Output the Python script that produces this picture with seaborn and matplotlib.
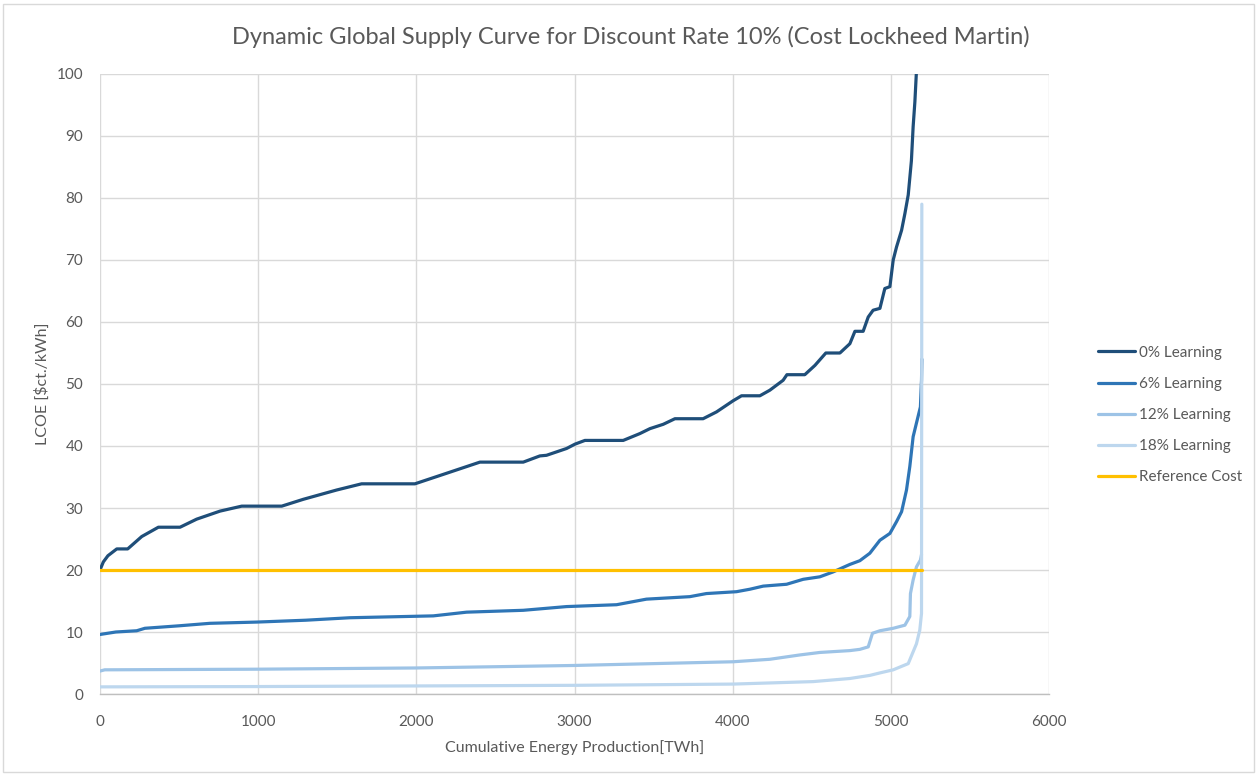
# ============================
# Dynamic Global Supply Curve (Discount Rate 10%)
# ============================

import pandas as pd
import matplotlib.pyplot as plt
import seaborn as sns
from matplotlib.lines import Line2D
from matplotlib.patches import Rectangle

sns.set_theme(style="whitegrid")
plt.rcParams['font.family'] = ['Lato', 'DejaVu Sans']

# ----------------------------
# Data
# ----------------------------
x_0 = [0, 21, 50, 106, 175, 264, 369, 506, 611, 759, 896, 1149, 1285, 1496, 1654,
       1991, 2191, 2402, 2676, 2781, 2823, 2950, 3003, 3066, 3308, 3413, 3477, 3561,
       3635, 3813, 3898, 4003, 4056, 4172, 4235, 4319, 4343, 4456, 4520, 4589, 4678,
       4741, 4773, 4825, 4857, 4888, 4931, 4962, 4994, 5015, 5036, 5068, 5089, 5110,
       5130, 5141, 5152, 5162]
lcoe_0 = [20.0, 21.3, 22.3, 23.4, 23.4, 25.4, 26.9, 26.9, 28.2, 29.5, 30.3, 30.3, 31.4,
          32.9, 33.9, 33.9, 35.6, 37.4, 37.4, 38.4, 38.5, 39.6, 40.3, 40.9, 40.9, 42.0,
          42.8, 43.5, 44.4, 44.4, 45.5, 47.3, 48.1, 48.1, 49.0, 50.6, 51.5, 51.5, 53.0,
          55.0, 55.0, 56.5, 58.5, 58.5, 60.8, 61.9, 62.2, 65.4, 65.7, 70.0, 72.1, 74.8,
          77.5, 80.5, 86.0, 91.5, 95.5, 100.5]

x_6 = [0, 100, 232, 284, 500, 695, 990, 1300, 1580, 2107, 2318, 2676, 2950, 3266, 3455,
       3729, 3834, 4024, 4109, 4193, 4341, 4446, 4551, 4636, 4741, 4804, 4867, 4931,
       4994, 5036, 5068, 5099, 5120, 5141, 5162, 5187, 5194, 5196]
lcoe_6 = [9.6, 10.0, 10.2, 10.6, 11.0, 11.4, 11.6, 11.9, 12.3, 12.6, 13.2, 13.5, 14.1,
          14.4, 15.3, 15.7, 16.2, 16.5, 16.9, 17.4, 17.7, 18.5, 18.9, 19.7, 20.9, 21.5,
          22.7, 24.8, 25.9, 27.8, 29.4, 32.9, 36.7, 41.5, 43.7, 46.3, 50.6, 54.0]

x_12 = [0, 30, 990, 2002, 2992, 3500, 4003, 4235, 4425, 4551, 4741, 4804, 4857, 4884,
        4931, 5015, 5089, 5120, 5124, 5141, 5162, 5187, 5194]
lcoe_12 = [3.7, 3.9, 4.0, 4.2, 4.6, 4.9, 5.2, 5.6, 6.3, 6.7, 7.0, 7.2, 7.6, 9.8, 10.2,
           10.6, 11.1, 12.5, 16.2, 18.4, 20.5, 21.6, 22.5]

x_18 = [0, 990, 2000, 3000, 4003, 4509, 4741, 4867, 4931, 5015, 5110, 5162, 5183, 5194,
        5196]
lcoe_18 = [1.15, 1.2, 1.3, 1.4, 1.6, 2.0, 2.5, 3.0, 3.4, 3.9, 4.9, 8.1, 10.3, 13.0, 79.0]

x_ref = [0, 5196]
lcoe_ref = [20, 20]

series_names = ['0% Learning', '6% Learning', '12% Learning', '18% Learning', 'Reference Cost']
series_colors = ['#1F4E79', '#2E75B6', '#9DC3E6', '#BDD7EE', '#FFC000']

# Long-form table for seaborn
frames = []
for name, xs, ys in zip(series_names,
                        [x_0, x_6, x_12, x_18, x_ref],
                        [lcoe_0, lcoe_6, lcoe_12, lcoe_18, lcoe_ref]):
    frames.append(pd.DataFrame({'Energy': xs, 'LCOE': ys, 'Series': name}))
df = pd.concat(frames, ignore_index=True)

# ----------------------------
# Plot
# ----------------------------
text_color = '#595959'
fig = plt.figure(figsize=(12.57, 7.74), dpi=100)
ax = fig.add_axes([100 / 1257, 1 - 694 / 774, 949 / 1257, 620 / 774])

for name, color in zip(series_names, series_colors):
    sub = df[df['Series'] == name]
    sns.lineplot(data=sub, x='Energy', y='LCOE', color=color, linewidth=2.3,
                 sort=False, estimator=None, ax=ax, legend=False)

ax.set_xlim(0, 6000)
ax.set_ylim(0, 100)
ax.set_xticks(range(0, 6001, 1000))
ax.set_yticks(range(0, 101, 10))
ax.grid(True, color='#D9D9D9', linewidth=1.0)
ax.set_axisbelow(True)
for side in ['top', 'right', 'left']:
    ax.spines[side].set_visible(False)
ax.spines['bottom'].set_color('#BFBFBF')
ax.spines['bottom'].set_linewidth(1.0)
ax.tick_params(axis='both', length=0, labelsize=11, labelcolor=text_color)
ax.tick_params(axis='x', pad=15)
ax.tick_params(axis='y', pad=12)

ax.set_xlabel('Cumulative Energy Production[TWh]', fontsize=11.5, color=text_color, labelpad=8)
ax.set_ylabel('LCOE [$ct./kWh]', fontsize=11.5, color=text_color, labelpad=5)
fig.text(0.502, 0.952, 'Dynamic Global Supply Curve for Discount Rate 10% (Cost Lockheed Martin)',
         ha='center', va='center', fontsize=17, color=text_color)

# Legend on the right
handles = [Line2D([0], [0], color=c, linewidth=2.3) for c in series_colors]
ax.legend(handles, series_names, loc='center left', bbox_to_anchor=(1.037, 0.45),
          frameon=False, fontsize=11, labelcolor=text_color, handlelength=2.4,
          handletextpad=0.3, labelspacing=1.12)

# Chart area border
fig.patches.append(Rectangle((0.002, 0.003), 0.996, 0.992, transform=fig.transFigure,
                             fill=False, edgecolor='#D9D9D9', linewidth=1.0))

fig.savefig('out.png', dpi=100)
